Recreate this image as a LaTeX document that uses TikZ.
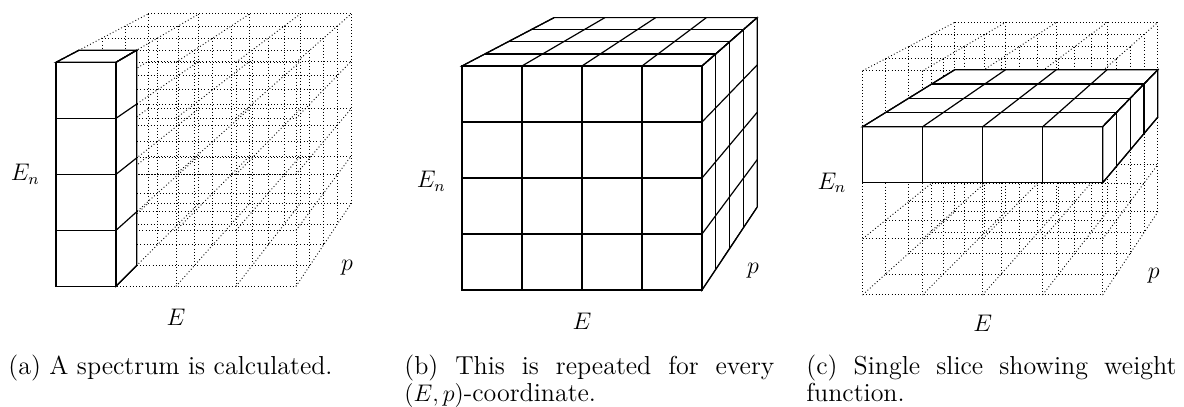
\documentclass[tikz,border=0pt]{standalone}
\usetikzlibrary{calc}

% cell size and perspective (all in pixels of the page)
\def\cw{60}
\def\ch{56}
\def\shr{0.0385}
\def\vpx{598}
\def\vpy{-314}

% caption text: justified, never hyphenated
\newcommand\capfont{\fontsize{13}{13.5}\selectfont\hyphenpenalty=10000\relax\exhyphenpenalty=10000\relax}

% point (i,j,k) of the lattice, seen from the front corner (\ox,\oy)
\newcommand\cp[3]{({\ox+\vpx+(1-(#3)*\shr)*((#1)*\cw-(\vpx))},{\oy+\vpy+(1-(#3)*\shr)*((#2)*\ch-(\vpy))})}

% whole 4x4x4 lattice, dotted
\newcommand\lattice{%
  \foreach \j in {0,...,4} \foreach \k in {0,...,4}
    \draw[gridline] \cp{0}{\j}{\k} -- \cp{4}{\j}{\k};
  \foreach \i in {0,...,4} \foreach \k in {0,...,4}
    \draw[gridline] \cp{\i}{0}{\k} -- \cp{\i}{4}{\k};
  \foreach \i in {0,...,4} \foreach \j in {0,...,4}
    \draw[gridline] \cp{\i}{\j}{0} -- \cp{\i}{\j}{4};
}

% solid block of cells: i from #1 to #2, j from #3 to #4, k from #5 to #6
\newcommand\block[6]{%
  \filldraw[cell] \cp{#1}{#3}{#5} -- \cp{#2}{#3}{#5} -- \cp{#2}{#4}{#5} -- \cp{#1}{#4}{#5} -- cycle;
  \filldraw[cell] \cp{#1}{#3}{#5} -- \cp{#2}{#3}{#5} -- \cp{#2}{#3}{#6} -- \cp{#1}{#3}{#6} -- cycle;
  \filldraw[cell] \cp{#2}{#3}{#5} -- \cp{#2}{#3}{#6} -- \cp{#2}{#4}{#6} -- \cp{#2}{#4}{#5} -- cycle;
  \foreach \i in {#1,...,#2} {
    \draw[cell] \cp{\i}{#3}{#5} -- \cp{\i}{#4}{#5};
    \draw[cell] \cp{\i}{#3}{#5} -- \cp{\i}{#3}{#6};
  }
  \foreach \j in {#3,...,#4} {
    \draw[cell] \cp{#1}{\j}{#5} -- \cp{#2}{\j}{#5};
    \draw[cell] \cp{#2}{\j}{#5} -- \cp{#2}{\j}{#6};
  }
  \foreach \k in {#5,...,#6} {
    \draw[cell] \cp{#1}{#3}{\k} -- \cp{#2}{#3}{\k};
    \draw[cell] \cp{#2}{#3}{\k} -- \cp{#2}{#4}{\k};
  }
}

\begin{document}
\begin{tikzpicture}[x=0.5pt, y=-0.5pt,
  font=\fontsize{12}{13.5}\selectfont,
  gridline/.style={line width=0.45pt, dash pattern=on 0.45pt off 1.15pt},
  cell/.style={line width=0.6pt, fill=white},
  axis/.style={inner sep=0pt},
  caption/.style={anchor=north west, inner sep=0pt, text width=185pt, align=justify, font=\capfont}]

\useasboundingbox (0,0) rectangle (1184,407);

% (a) one spectrum
\def\ox{56}
\def\oy{62.3}
\lattice
\block{0}{1}{0}{4}{0}{1}
\node[axis, anchor=east] (ena) at (\ox-16, \oy+112) {$E_n$};
\node[axis] (ea) at (\ox+120, \oy+255) {$E$};
\node[axis] (pa) at (\ox+291, \oy+205) {$p$};

% (b) every (E,p)
\def\ox{462}
\def\oy{66}
\block{0}{4}{0}{4}{0}{4}
\node[axis, anchor=east] (enb) at (\ox-16, \oy+115) {$E_n$};
\node[axis] (eb) at (\ox+120, \oy+255) {$E$};
\node[axis] (pb) at (\ox+291, \oy+205) {$p$};

% (c) one slice
\def\ox{862.7}
\def\oy{70.7}
\lattice
\block{0}{4}{1}{2}{0}{4}
\node[axis, anchor=east] (enc) at (\ox-16, \oy+112) {$E_n$};
\node[axis] (ec) at (\ox+120, \oy+253) {$E$};
\node[axis] (pc) at (\ox+291, \oy+205) {$p$};

% captions
\node[caption] (capa) at (8, 355) {(a) A spectrum is calculated.};
\node[caption] (capb) at (404, 355) {(b) This is repeated for every $(E,p)$-coordinate.};
\node[caption] (capc) at (806, 355) {(c) Single slice showing weight function.};

\end{tikzpicture}
\end{document}
